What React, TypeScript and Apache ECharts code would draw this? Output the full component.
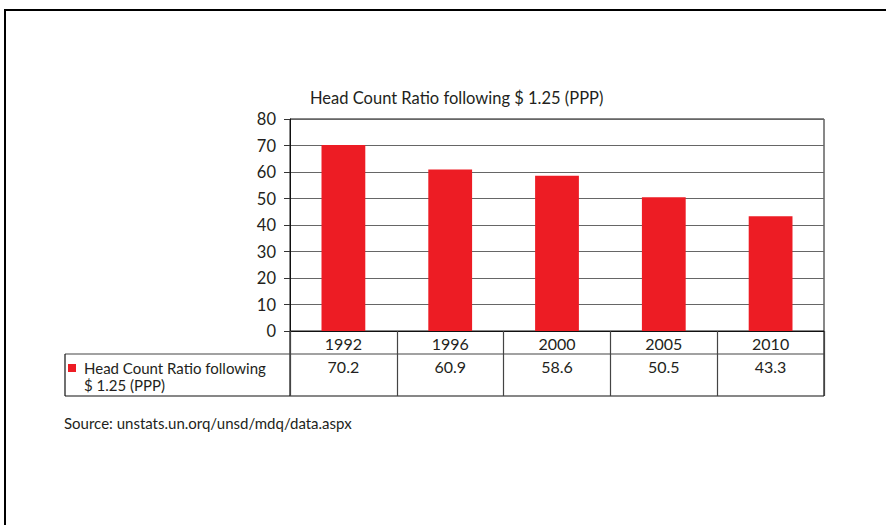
import React, { useEffect, useRef } from "react";
import * as echarts from "echarts";

const seriesName = "Head Count Ratio following $ 1.25 (PPP)";
const legendLines = ["Head Count Ratio following", "$ 1.25 (PPP)"];
const years = ["1992", "1996", "2000", "2005", "2010"];
const ratios = [70.2, 60.9, 58.6, 50.5, 43.3];
const yTicks = [0, 10, 20, 30, 40, 50, 60, 70, 80];
const sourceNote = "Source: unstats.un.orq/unsd/mdq/data.aspx";

const FONT = "Lato, 'Noto Sans', sans-serif";
const RED = "#ED1C24";
const INK = "#231f20";

// plot box
const PL = 290;
const PR = 824;
const PT = 119;
const PB = 331;
const ROW1 = 354;
const ROW2 = 396;
const CELL_L = 65;

export default function App() {
  const ref = useRef<HTMLDivElement>(null);

  useEffect(() => {
    if (!ref.current) return;
    const chart = echarts.init(ref.current, undefined, { renderer: "svg" });
    const W = 886;
    const H = 525;
    chart.setOption({
      animation: false,
      backgroundColor: "#ffffff",
      title: {
        text: seriesName,
        left: 305,
        top: 84,
        textStyle: { fontFamily: FONT, fontSize: 16.5, fontWeight: "normal", color: INK },
      },
      grid: {
        left: PL,
        right: W - PR,
        top: PT,
        bottom: H - PB,
        show: true,
        borderColor: "#111",
        borderWidth: 1,
        backgroundColor: "transparent",
      },
      xAxis: [
        {
          type: "category",
          data: years,
          position: "bottom",
          axisLine: { show: true, lineStyle: { color: "#111", width: 1 } },
          axisTick: { show: true, alignWithLabel: false, length: ROW2 - PB, lineStyle: { color: "#444", width: 1.2 } },
          axisLabel: { margin: 4, fontFamily: FONT, fontSize: 16, color: INK },
          splitLine: { show: false },
        },
        {
          type: "category",
          data: years,
          position: "bottom",
          offset: ROW1 - PB,
          axisLine: { show: false },
          axisTick: { show: false },
          axisLabel: {
            margin: 4,
            fontFamily: FONT,
            fontSize: 16,
            color: INK,
            formatter: (_v: string, i: number) => ratios[i].toFixed(1),
          },
        },
      ],
      yAxis: {
        type: "value",
        min: yTicks[0],
        max: yTicks[yTicks.length - 1],
        interval: 10,
        axisLine: { show: true, lineStyle: { color: "#111", width: 1 } },
        axisTick: { show: true, length: 6, lineStyle: { color: "#333" } },
        axisLabel: { margin: 14, fontFamily: FONT, fontSize: 16.5, color: INK },
        splitLine: { show: true, lineStyle: { color: "#666", width: 1 } },
      },
      series: [
        {
          name: seriesName,
          type: "bar",
          data: ratios,
          barWidth: "41%",
          itemStyle: { color: RED },
        },
      ],
      graphic: [
        // outer frame
        { type: "line", shape: { x1: 5, y1: 10, x2: W, y2: 10 }, style: { stroke: "#000", lineWidth: 2 } },
        { type: "line", shape: { x1: 5, y1: 9, x2: 5, y2: H }, style: { stroke: "#000", lineWidth: 2 } },
        // data table rules
        { type: "line", shape: { x1: PL, y1: PB, x2: PL, y2: ROW2 }, style: { stroke: "#111", lineWidth: 1.2 } },
        { type: "line", shape: { x1: PR, y1: PB, x2: PR, y2: ROW2 }, style: { stroke: "#111", lineWidth: 1.2 } },
        { type: "line", shape: { x1: CELL_L, y1: ROW1, x2: PR, y2: ROW1 }, style: { stroke: "#444", lineWidth: 1.2 } },
        { type: "line", shape: { x1: CELL_L, y1: ROW2, x2: PR, y2: ROW2 }, style: { stroke: "#111", lineWidth: 1.2 } },
        { type: "line", shape: { x1: CELL_L, y1: ROW1, x2: CELL_L, y2: ROW2 }, style: { stroke: "#111", lineWidth: 1.2 } },
        // legend key inside the table
        { type: "rect", shape: { x: 68, y: 364, width: 8, height: 8 }, style: { fill: RED } },
        {
          type: "text",
          x: 84,
          y: 359,
          style: {
            text: legendLines.join("\n"),
            fontFamily: FONT,
            fontSize: 15,
            lineHeight: 17,
            fill: INK,
          },
        },
        {
          type: "text",
          x: 64,
          y: 415,
          style: { text: sourceNote, fontFamily: FONT, fontSize: 15, fill: INK },
        },
      ],
    });
    return () => chart.dispose();
  }, []);

  return (
    <div
      ref={ref}
      style={{ position: "fixed", left: 0, top: 0, width: 886, height: 525 }}
    />
  );
}
